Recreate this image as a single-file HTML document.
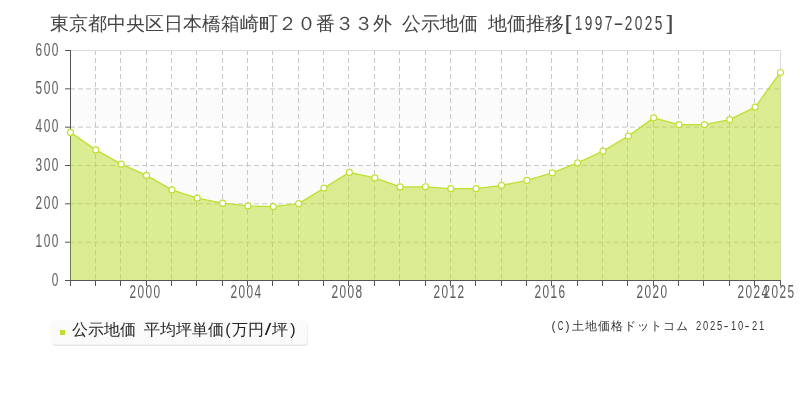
<!DOCTYPE html>
<html><head><meta charset="utf-8"><style>
html,body{margin:0;padding:0;background:#fff;width:800px;height:400px;overflow:hidden}
svg{display:block;font-family:"Liberation Sans",sans-serif;will-change:transform}
</style></head><body>
<svg width="800" height="400" viewBox="0 0 800 400">
<rect width="800" height="400" fill="#fff"/>
<g fill="#444"><text x="59.50" y="30" font-size="18.5" text-anchor="middle">東</text><text x="78.50" y="30" font-size="18.5" text-anchor="middle">京</text><text x="97.50" y="30" font-size="18.5" text-anchor="middle">都</text><text x="116.50" y="30" font-size="18.5" text-anchor="middle">中</text><text x="135.50" y="30" font-size="18.5" text-anchor="middle">央</text><text x="154.50" y="30" font-size="18.5" text-anchor="middle">区</text><text x="173.50" y="30" font-size="18.5" text-anchor="middle">日</text><text x="192.50" y="30" font-size="18.5" text-anchor="middle">本</text><text x="211.50" y="30" font-size="18.5" text-anchor="middle">橋</text><text x="230.50" y="30" font-size="18.5" text-anchor="middle">箱</text><text x="249.50" y="30" font-size="18.5" text-anchor="middle">崎</text><text x="268.50" y="30" font-size="18.5" text-anchor="middle">町</text><text x="287.50" y="30" font-size="18.5" text-anchor="middle">２</text><text x="306.50" y="30" font-size="18.5" text-anchor="middle">０</text><text x="325.50" y="30" font-size="18.5" text-anchor="middle">番</text><text x="344.50" y="30" font-size="18.5" text-anchor="middle">３</text><text x="363.50" y="30" font-size="18.5" text-anchor="middle">３</text><text x="382.50" y="30" font-size="18.5" text-anchor="middle">外</text></g><g fill="#444"><text x="411.50" y="30" font-size="18.5" text-anchor="middle">公</text><text x="430.50" y="30" font-size="18.5" text-anchor="middle">示</text><text x="449.50" y="30" font-size="18.5" text-anchor="middle">地</text><text x="468.50" y="30" font-size="18.5" text-anchor="middle">価</text></g><g fill="#444"><text x="497.50" y="30" font-size="18.5" text-anchor="middle">地</text><text x="516.50" y="30" font-size="18.5" text-anchor="middle">価</text><text x="535.50" y="30" font-size="18.5" text-anchor="middle">推</text><text x="554.50" y="30" font-size="18.5" text-anchor="middle">移</text></g><g fill="#444"><text x="568.00" y="30" font-size="19.5" text-anchor="middle" textLength="7.00" lengthAdjust="spacingAndGlyphs">[</text><text x="578.50" y="30" font-size="19.5" text-anchor="middle" textLength="7.60" lengthAdjust="spacingAndGlyphs">1</text><text x="588.50" y="30" font-size="19.5" text-anchor="middle" textLength="7.60" lengthAdjust="spacingAndGlyphs">9</text><text x="598.50" y="30" font-size="19.5" text-anchor="middle" textLength="7.60" lengthAdjust="spacingAndGlyphs">9</text><text x="608.50" y="30" font-size="19.5" text-anchor="middle" textLength="7.60" lengthAdjust="spacingAndGlyphs">7</text><text x="618.50" y="30" font-size="19.5" text-anchor="middle" textLength="10.00" lengthAdjust="spacingAndGlyphs">-</text><text x="628.50" y="30" font-size="19.5" text-anchor="middle" textLength="7.60" lengthAdjust="spacingAndGlyphs">2</text><text x="638.50" y="30" font-size="19.5" text-anchor="middle" textLength="7.60" lengthAdjust="spacingAndGlyphs">0</text><text x="648.50" y="30" font-size="19.5" text-anchor="middle" textLength="7.60" lengthAdjust="spacingAndGlyphs">2</text><text x="658.50" y="30" font-size="19.5" text-anchor="middle" textLength="7.60" lengthAdjust="spacingAndGlyphs">5</text><text x="670.00" y="30" font-size="19.5" text-anchor="middle" textLength="7.00" lengthAdjust="spacingAndGlyphs">]</text></g>
<rect x="70" y="50.50" width="711" height="38.33" fill="#ffffff"/>
<rect x="70" y="88.83" width="711" height="38.33" fill="#fcfbfc"/>
<rect x="70" y="127.17" width="711" height="38.33" fill="#ffffff"/>
<rect x="70" y="165.50" width="711" height="38.33" fill="#fcfbfc"/>
<rect x="70" y="203.83" width="711" height="38.33" fill="#ffffff"/>
<rect x="70" y="242.17" width="711" height="38.33" fill="#fcfbfc"/>
<path d="M95.5,50 V280" stroke="#c8c8c8" stroke-width="1" stroke-dasharray="5,3"/>
<path d="M120.5,50 V280" stroke="#c8c8c8" stroke-width="1" stroke-dasharray="5,3"/>
<path d="M146.5,50 V280" stroke="#c8c8c8" stroke-width="1" stroke-dasharray="5,3"/>
<path d="M171.5,50 V280" stroke="#c8c8c8" stroke-width="1" stroke-dasharray="5,3"/>
<path d="M196.5,50 V280" stroke="#c8c8c8" stroke-width="1" stroke-dasharray="5,3"/>
<path d="M222.5,50 V280" stroke="#c8c8c8" stroke-width="1" stroke-dasharray="5,3"/>
<path d="M247.5,50 V280" stroke="#c8c8c8" stroke-width="1" stroke-dasharray="5,3"/>
<path d="M272.5,50 V280" stroke="#c8c8c8" stroke-width="1" stroke-dasharray="5,3"/>
<path d="M298.5,50 V280" stroke="#c8c8c8" stroke-width="1" stroke-dasharray="5,3"/>
<path d="M323.5,50 V280" stroke="#c8c8c8" stroke-width="1" stroke-dasharray="5,3"/>
<path d="M348.5,50 V280" stroke="#c8c8c8" stroke-width="1" stroke-dasharray="5,3"/>
<path d="M374.5,50 V280" stroke="#c8c8c8" stroke-width="1" stroke-dasharray="5,3"/>
<path d="M399.5,50 V280" stroke="#c8c8c8" stroke-width="1" stroke-dasharray="5,3"/>
<path d="M425.5,50 V280" stroke="#c8c8c8" stroke-width="1" stroke-dasharray="5,3"/>
<path d="M450.5,50 V280" stroke="#c8c8c8" stroke-width="1" stroke-dasharray="5,3"/>
<path d="M475.5,50 V280" stroke="#c8c8c8" stroke-width="1" stroke-dasharray="5,3"/>
<path d="M501.5,50 V280" stroke="#c8c8c8" stroke-width="1" stroke-dasharray="5,3"/>
<path d="M526.5,50 V280" stroke="#c8c8c8" stroke-width="1" stroke-dasharray="5,3"/>
<path d="M551.5,50 V280" stroke="#c8c8c8" stroke-width="1" stroke-dasharray="5,3"/>
<path d="M577.5,50 V280" stroke="#c8c8c8" stroke-width="1" stroke-dasharray="5,3"/>
<path d="M602.5,50 V280" stroke="#c8c8c8" stroke-width="1" stroke-dasharray="5,3"/>
<path d="M627.5,50 V280" stroke="#c8c8c8" stroke-width="1" stroke-dasharray="5,3"/>
<path d="M653.5,50 V280" stroke="#c8c8c8" stroke-width="1" stroke-dasharray="5,3"/>
<path d="M678.5,50 V280" stroke="#c8c8c8" stroke-width="1" stroke-dasharray="5,3"/>
<path d="M703.5,50 V280" stroke="#c8c8c8" stroke-width="1" stroke-dasharray="5,3"/>
<path d="M729.5,50 V280" stroke="#c8c8c8" stroke-width="1" stroke-dasharray="5,3"/>
<path d="M754.5,50 V280" stroke="#c8c8c8" stroke-width="1" stroke-dasharray="5,3"/>
<path d="M70,242.17 H780" stroke="#c8c8c8" stroke-width="1" stroke-dasharray="5,3"/>
<path d="M70,203.83 H780" stroke="#c8c8c8" stroke-width="1" stroke-dasharray="5,3"/>
<path d="M70,165.50 H780" stroke="#c8c8c8" stroke-width="1" stroke-dasharray="5,3"/>
<path d="M70,127.17 H780" stroke="#c8c8c8" stroke-width="1" stroke-dasharray="5,3"/>
<path d="M70,88.83 H780" stroke="#c8c8c8" stroke-width="1" stroke-dasharray="5,3"/>
<path d="M70,50.5 H781" stroke="#dcdcdc" stroke-width="1"/>
<path d="M780.5,50 V280" stroke="#dcdcdc" stroke-width="1"/>
<path d="M70.5,50 V281" stroke="#555" stroke-width="1" fill="none"/>
<path d="M70.45,280.5 L70.45,132.40 L95.81,149.90 L121.16,164.15 L146.52,175.40 L171.88,189.90 L197.24,198.15 L222.59,203.15 L247.95,205.90 L273.31,206.65 L298.66,203.65 L324.02,188.15 L349.38,172.40 L374.74,177.90 L400.09,186.90 L425.45,186.80 L450.81,188.65 L476.16,188.65 L501.52,185.40 L526.88,180.40 L552.24,172.90 L577.59,162.90 L602.95,151.15 L628.31,136.15 L653.66,117.90 L679.02,124.65 L704.38,124.65 L729.74,119.65 L755.09,107.15 L780.45,72.50 L780.45,280.5 Z" fill="#b7db27" fill-opacity="0.5"/>
<polyline points="70.45,132.40 95.81,149.90 121.16,164.15 146.52,175.40 171.88,189.90 197.24,198.15 222.59,203.15 247.95,205.90 273.31,206.65 298.66,203.65 324.02,188.15 349.38,172.40 374.74,177.90 400.09,186.90 425.45,186.80 450.81,188.65 476.16,188.65 501.52,185.40 526.88,180.40 552.24,172.90 577.59,162.90 602.95,151.15 628.31,136.15 653.66,117.90 679.02,124.65 704.38,124.65 729.74,119.65 755.09,107.15 780.45,72.50" fill="none" stroke="#bde030" stroke-width="1.3" stroke-linejoin="round"/>
<g stroke="#555" stroke-width="1" fill="none">
<path d="M65,280.5 H781"/>
<path d="M70.50,280 V286 M95.50,280 V286 M120.50,280 V286 M146.50,280 V286 M171.50,280 V286 M196.50,280 V286 M222.50,280 V286 M247.50,280 V286 M272.50,280 V286 M298.50,280 V286 M323.50,280 V286 M348.50,280 V286 M374.50,280 V286 M399.50,280 V286 M425.50,280 V286 M450.50,280 V286 M475.50,280 V286 M501.50,280 V286 M526.50,280 V286 M551.50,280 V286 M577.50,280 V286 M602.50,280 V286 M627.50,280 V286 M653.50,280 V286 M678.50,280 V286 M703.50,280 V286 M729.50,280 V286 M754.50,280 V286 M780.50,280 V286"/>
<path d="M65,242.17 H70 M65,203.83 H70 M65,165.50 H70 M65,127.17 H70 M65,88.83 H70 M65,50.50 H70"/>
</g>
<circle cx="70.45" cy="132.40" r="3" fill="#fff" stroke="#bde030" stroke-width="1.1"/>
<circle cx="95.81" cy="149.90" r="3" fill="#fff" stroke="#bde030" stroke-width="1.1"/>
<circle cx="121.16" cy="164.15" r="3" fill="#fff" stroke="#bde030" stroke-width="1.1"/>
<circle cx="146.52" cy="175.40" r="3" fill="#fff" stroke="#bde030" stroke-width="1.1"/>
<circle cx="171.88" cy="189.90" r="3" fill="#fff" stroke="#bde030" stroke-width="1.1"/>
<circle cx="197.24" cy="198.15" r="3" fill="#fff" stroke="#bde030" stroke-width="1.1"/>
<circle cx="222.59" cy="203.15" r="3" fill="#fff" stroke="#bde030" stroke-width="1.1"/>
<circle cx="247.95" cy="205.90" r="3" fill="#fff" stroke="#bde030" stroke-width="1.1"/>
<circle cx="273.31" cy="206.65" r="3" fill="#fff" stroke="#bde030" stroke-width="1.1"/>
<circle cx="298.66" cy="203.65" r="3" fill="#fff" stroke="#bde030" stroke-width="1.1"/>
<circle cx="324.02" cy="188.15" r="3" fill="#fff" stroke="#bde030" stroke-width="1.1"/>
<circle cx="349.38" cy="172.40" r="3" fill="#fff" stroke="#bde030" stroke-width="1.1"/>
<circle cx="374.74" cy="177.90" r="3" fill="#fff" stroke="#bde030" stroke-width="1.1"/>
<circle cx="400.09" cy="186.90" r="3" fill="#fff" stroke="#bde030" stroke-width="1.1"/>
<circle cx="425.45" cy="186.80" r="3" fill="#fff" stroke="#bde030" stroke-width="1.1"/>
<circle cx="450.81" cy="188.65" r="3" fill="#fff" stroke="#bde030" stroke-width="1.1"/>
<circle cx="476.16" cy="188.65" r="3" fill="#fff" stroke="#bde030" stroke-width="1.1"/>
<circle cx="501.52" cy="185.40" r="3" fill="#fff" stroke="#bde030" stroke-width="1.1"/>
<circle cx="526.88" cy="180.40" r="3" fill="#fff" stroke="#bde030" stroke-width="1.1"/>
<circle cx="552.24" cy="172.90" r="3" fill="#fff" stroke="#bde030" stroke-width="1.1"/>
<circle cx="577.59" cy="162.90" r="3" fill="#fff" stroke="#bde030" stroke-width="1.1"/>
<circle cx="602.95" cy="151.15" r="3" fill="#fff" stroke="#bde030" stroke-width="1.1"/>
<circle cx="628.31" cy="136.15" r="3" fill="#fff" stroke="#bde030" stroke-width="1.1"/>
<circle cx="653.66" cy="117.90" r="3" fill="#fff" stroke="#bde030" stroke-width="1.1"/>
<circle cx="679.02" cy="124.65" r="3" fill="#fff" stroke="#bde030" stroke-width="1.1"/>
<circle cx="704.38" cy="124.65" r="3" fill="#fff" stroke="#bde030" stroke-width="1.1"/>
<circle cx="729.74" cy="119.65" r="3" fill="#fff" stroke="#bde030" stroke-width="1.1"/>
<circle cx="755.09" cy="107.15" r="3" fill="#fff" stroke="#bde030" stroke-width="1.1"/>
<circle cx="780.45" cy="72.50" r="3" fill="#fff" stroke="#bde030" stroke-width="1.1"/>
<g fill="#5a5a5a">
<text x="55.10" y="285.50" font-size="18.3" text-anchor="middle" textLength="6.6" lengthAdjust="spacingAndGlyphs">0</text>
<text x="38.90" y="247.17" font-size="18.3" text-anchor="middle" textLength="6.6" lengthAdjust="spacingAndGlyphs">1</text><text x="47.00" y="247.17" font-size="18.3" text-anchor="middle" textLength="6.6" lengthAdjust="spacingAndGlyphs">0</text><text x="55.10" y="247.17" font-size="18.3" text-anchor="middle" textLength="6.6" lengthAdjust="spacingAndGlyphs">0</text>
<text x="38.90" y="208.83" font-size="18.3" text-anchor="middle" textLength="6.6" lengthAdjust="spacingAndGlyphs">2</text><text x="47.00" y="208.83" font-size="18.3" text-anchor="middle" textLength="6.6" lengthAdjust="spacingAndGlyphs">0</text><text x="55.10" y="208.83" font-size="18.3" text-anchor="middle" textLength="6.6" lengthAdjust="spacingAndGlyphs">0</text>
<text x="38.90" y="170.50" font-size="18.3" text-anchor="middle" textLength="6.6" lengthAdjust="spacingAndGlyphs">3</text><text x="47.00" y="170.50" font-size="18.3" text-anchor="middle" textLength="6.6" lengthAdjust="spacingAndGlyphs">0</text><text x="55.10" y="170.50" font-size="18.3" text-anchor="middle" textLength="6.6" lengthAdjust="spacingAndGlyphs">0</text>
<text x="38.90" y="132.17" font-size="18.3" text-anchor="middle" textLength="6.6" lengthAdjust="spacingAndGlyphs">4</text><text x="47.00" y="132.17" font-size="18.3" text-anchor="middle" textLength="6.6" lengthAdjust="spacingAndGlyphs">0</text><text x="55.10" y="132.17" font-size="18.3" text-anchor="middle" textLength="6.6" lengthAdjust="spacingAndGlyphs">0</text>
<text x="38.90" y="93.83" font-size="18.3" text-anchor="middle" textLength="6.6" lengthAdjust="spacingAndGlyphs">5</text><text x="47.00" y="93.83" font-size="18.3" text-anchor="middle" textLength="6.6" lengthAdjust="spacingAndGlyphs">0</text><text x="55.10" y="93.83" font-size="18.3" text-anchor="middle" textLength="6.6" lengthAdjust="spacingAndGlyphs">0</text>
<text x="38.90" y="55.50" font-size="18.3" text-anchor="middle" textLength="6.6" lengthAdjust="spacingAndGlyphs">6</text><text x="47.00" y="55.50" font-size="18.3" text-anchor="middle" textLength="6.6" lengthAdjust="spacingAndGlyphs">0</text><text x="55.10" y="55.50" font-size="18.3" text-anchor="middle" textLength="6.6" lengthAdjust="spacingAndGlyphs">0</text>
<text x="132.80" y="298.00" font-size="18.3" text-anchor="middle" textLength="6.6" lengthAdjust="spacingAndGlyphs">2</text><text x="140.80" y="298.00" font-size="18.3" text-anchor="middle" textLength="6.6" lengthAdjust="spacingAndGlyphs">0</text><text x="148.80" y="298.00" font-size="18.3" text-anchor="middle" textLength="6.6" lengthAdjust="spacingAndGlyphs">0</text><text x="156.80" y="298.00" font-size="18.3" text-anchor="middle" textLength="6.6" lengthAdjust="spacingAndGlyphs">0</text>
<text x="233.80" y="298.00" font-size="18.3" text-anchor="middle" textLength="6.6" lengthAdjust="spacingAndGlyphs">2</text><text x="241.80" y="298.00" font-size="18.3" text-anchor="middle" textLength="6.6" lengthAdjust="spacingAndGlyphs">0</text><text x="249.80" y="298.00" font-size="18.3" text-anchor="middle" textLength="6.6" lengthAdjust="spacingAndGlyphs">0</text><text x="257.80" y="298.00" font-size="18.3" text-anchor="middle" textLength="6.6" lengthAdjust="spacingAndGlyphs">4</text>
<text x="334.80" y="298.00" font-size="18.3" text-anchor="middle" textLength="6.6" lengthAdjust="spacingAndGlyphs">2</text><text x="342.80" y="298.00" font-size="18.3" text-anchor="middle" textLength="6.6" lengthAdjust="spacingAndGlyphs">0</text><text x="350.80" y="298.00" font-size="18.3" text-anchor="middle" textLength="6.6" lengthAdjust="spacingAndGlyphs">0</text><text x="358.80" y="298.00" font-size="18.3" text-anchor="middle" textLength="6.6" lengthAdjust="spacingAndGlyphs">8</text>
<text x="436.80" y="298.00" font-size="18.3" text-anchor="middle" textLength="6.6" lengthAdjust="spacingAndGlyphs">2</text><text x="444.80" y="298.00" font-size="18.3" text-anchor="middle" textLength="6.6" lengthAdjust="spacingAndGlyphs">0</text><text x="452.80" y="298.00" font-size="18.3" text-anchor="middle" textLength="6.6" lengthAdjust="spacingAndGlyphs">1</text><text x="460.80" y="298.00" font-size="18.3" text-anchor="middle" textLength="6.6" lengthAdjust="spacingAndGlyphs">2</text>
<text x="537.80" y="298.00" font-size="18.3" text-anchor="middle" textLength="6.6" lengthAdjust="spacingAndGlyphs">2</text><text x="545.80" y="298.00" font-size="18.3" text-anchor="middle" textLength="6.6" lengthAdjust="spacingAndGlyphs">0</text><text x="553.80" y="298.00" font-size="18.3" text-anchor="middle" textLength="6.6" lengthAdjust="spacingAndGlyphs">1</text><text x="561.80" y="298.00" font-size="18.3" text-anchor="middle" textLength="6.6" lengthAdjust="spacingAndGlyphs">6</text>
<text x="639.80" y="298.00" font-size="18.3" text-anchor="middle" textLength="6.6" lengthAdjust="spacingAndGlyphs">2</text><text x="647.80" y="298.00" font-size="18.3" text-anchor="middle" textLength="6.6" lengthAdjust="spacingAndGlyphs">0</text><text x="655.80" y="298.00" font-size="18.3" text-anchor="middle" textLength="6.6" lengthAdjust="spacingAndGlyphs">2</text><text x="663.80" y="298.00" font-size="18.3" text-anchor="middle" textLength="6.6" lengthAdjust="spacingAndGlyphs">0</text>
<text x="740.80" y="298.00" font-size="18.3" text-anchor="middle" textLength="6.6" lengthAdjust="spacingAndGlyphs">2</text><text x="748.80" y="298.00" font-size="18.3" text-anchor="middle" textLength="6.6" lengthAdjust="spacingAndGlyphs">0</text><text x="756.80" y="298.00" font-size="18.3" text-anchor="middle" textLength="6.6" lengthAdjust="spacingAndGlyphs">2</text><text x="764.80" y="298.00" font-size="18.3" text-anchor="middle" textLength="6.6" lengthAdjust="spacingAndGlyphs">4</text>
<text x="766.80" y="298.00" font-size="18.3" text-anchor="middle" textLength="6.6" lengthAdjust="spacingAndGlyphs">2</text><text x="774.80" y="298.00" font-size="18.3" text-anchor="middle" textLength="6.6" lengthAdjust="spacingAndGlyphs">0</text><text x="782.80" y="298.00" font-size="18.3" text-anchor="middle" textLength="6.6" lengthAdjust="spacingAndGlyphs">2</text><text x="790.80" y="298.00" font-size="18.3" text-anchor="middle" textLength="6.6" lengthAdjust="spacingAndGlyphs">5</text>
</g>
<rect x="52" y="322" width="256" height="24" rx="4" fill="#e6e6e6"/>
<rect x="50.5" y="320.5" width="257" height="24" rx="4" fill="#fafafa"/>
<rect x="60" y="330" width="5" height="5" fill="#bde030"/>
<g fill="#222"><text x="80.00" y="335" font-size="16" text-anchor="middle">公</text><text x="96.00" y="335" font-size="16" text-anchor="middle">示</text><text x="112.00" y="335" font-size="16" text-anchor="middle">地</text><text x="128.00" y="335" font-size="16" text-anchor="middle">価</text><text x="152.00" y="335" font-size="16" text-anchor="middle">平</text><text x="168.00" y="335" font-size="16" text-anchor="middle">均</text><text x="184.00" y="335" font-size="16" text-anchor="middle">坪</text><text x="200.00" y="335" font-size="16" text-anchor="middle">単</text><text x="216.00" y="335" font-size="16" text-anchor="middle">価</text><text x="228.00" y="335" font-size="16" text-anchor="middle">(</text><text x="240.00" y="335" font-size="16" text-anchor="middle">万</text><text x="256.00" y="335" font-size="16" text-anchor="middle">円</text><text x="268.00" y="335" font-size="16" text-anchor="middle" textLength="6.50" lengthAdjust="spacingAndGlyphs">/</text><text x="280.00" y="335" font-size="16" text-anchor="middle">坪</text><text x="293.00" y="335" font-size="16" text-anchor="middle">)</text></g>
<g fill="#333"><text x="553.50" y="330" font-size="12" text-anchor="middle">(</text><text x="560.50" y="330" font-size="12" text-anchor="middle" textLength="5.60" lengthAdjust="spacingAndGlyphs">C</text><text x="567.50" y="330" font-size="12" text-anchor="middle">)</text><text x="577.50" y="330" font-size="12" text-anchor="middle">土</text><text x="590.50" y="330" font-size="12" text-anchor="middle">地</text><text x="603.50" y="330" font-size="12" text-anchor="middle">価</text><text x="616.50" y="330" font-size="12" text-anchor="middle">格</text><text x="629.50" y="330" font-size="12" text-anchor="middle">ド</text><text x="642.50" y="330" font-size="12" text-anchor="middle">ッ</text><text x="655.50" y="330" font-size="12" text-anchor="middle">ト</text><text x="668.50" y="330" font-size="12" text-anchor="middle">コ</text><text x="681.50" y="330" font-size="12" text-anchor="middle">ム</text><text x="698.50" y="330" font-size="12" text-anchor="middle" textLength="5.20" lengthAdjust="spacingAndGlyphs">2</text><text x="705.50" y="330" font-size="12" text-anchor="middle" textLength="5.20" lengthAdjust="spacingAndGlyphs">0</text><text x="712.50" y="330" font-size="12" text-anchor="middle" textLength="5.20" lengthAdjust="spacingAndGlyphs">2</text><text x="719.50" y="330" font-size="12" text-anchor="middle" textLength="5.20" lengthAdjust="spacingAndGlyphs">5</text><text x="726.00" y="330" font-size="12" text-anchor="middle" textLength="5.00" lengthAdjust="spacingAndGlyphs">-</text><text x="733.50" y="330" font-size="12" text-anchor="middle" textLength="5.20" lengthAdjust="spacingAndGlyphs">1</text><text x="740.50" y="330" font-size="12" text-anchor="middle" textLength="5.20" lengthAdjust="spacingAndGlyphs">0</text><text x="747.00" y="330" font-size="12" text-anchor="middle" textLength="5.00" lengthAdjust="spacingAndGlyphs">-</text><text x="754.50" y="330" font-size="12" text-anchor="middle" textLength="5.20" lengthAdjust="spacingAndGlyphs">2</text><text x="761.50" y="330" font-size="12" text-anchor="middle" textLength="5.20" lengthAdjust="spacingAndGlyphs">1</text></g>
</svg>
</body></html>
